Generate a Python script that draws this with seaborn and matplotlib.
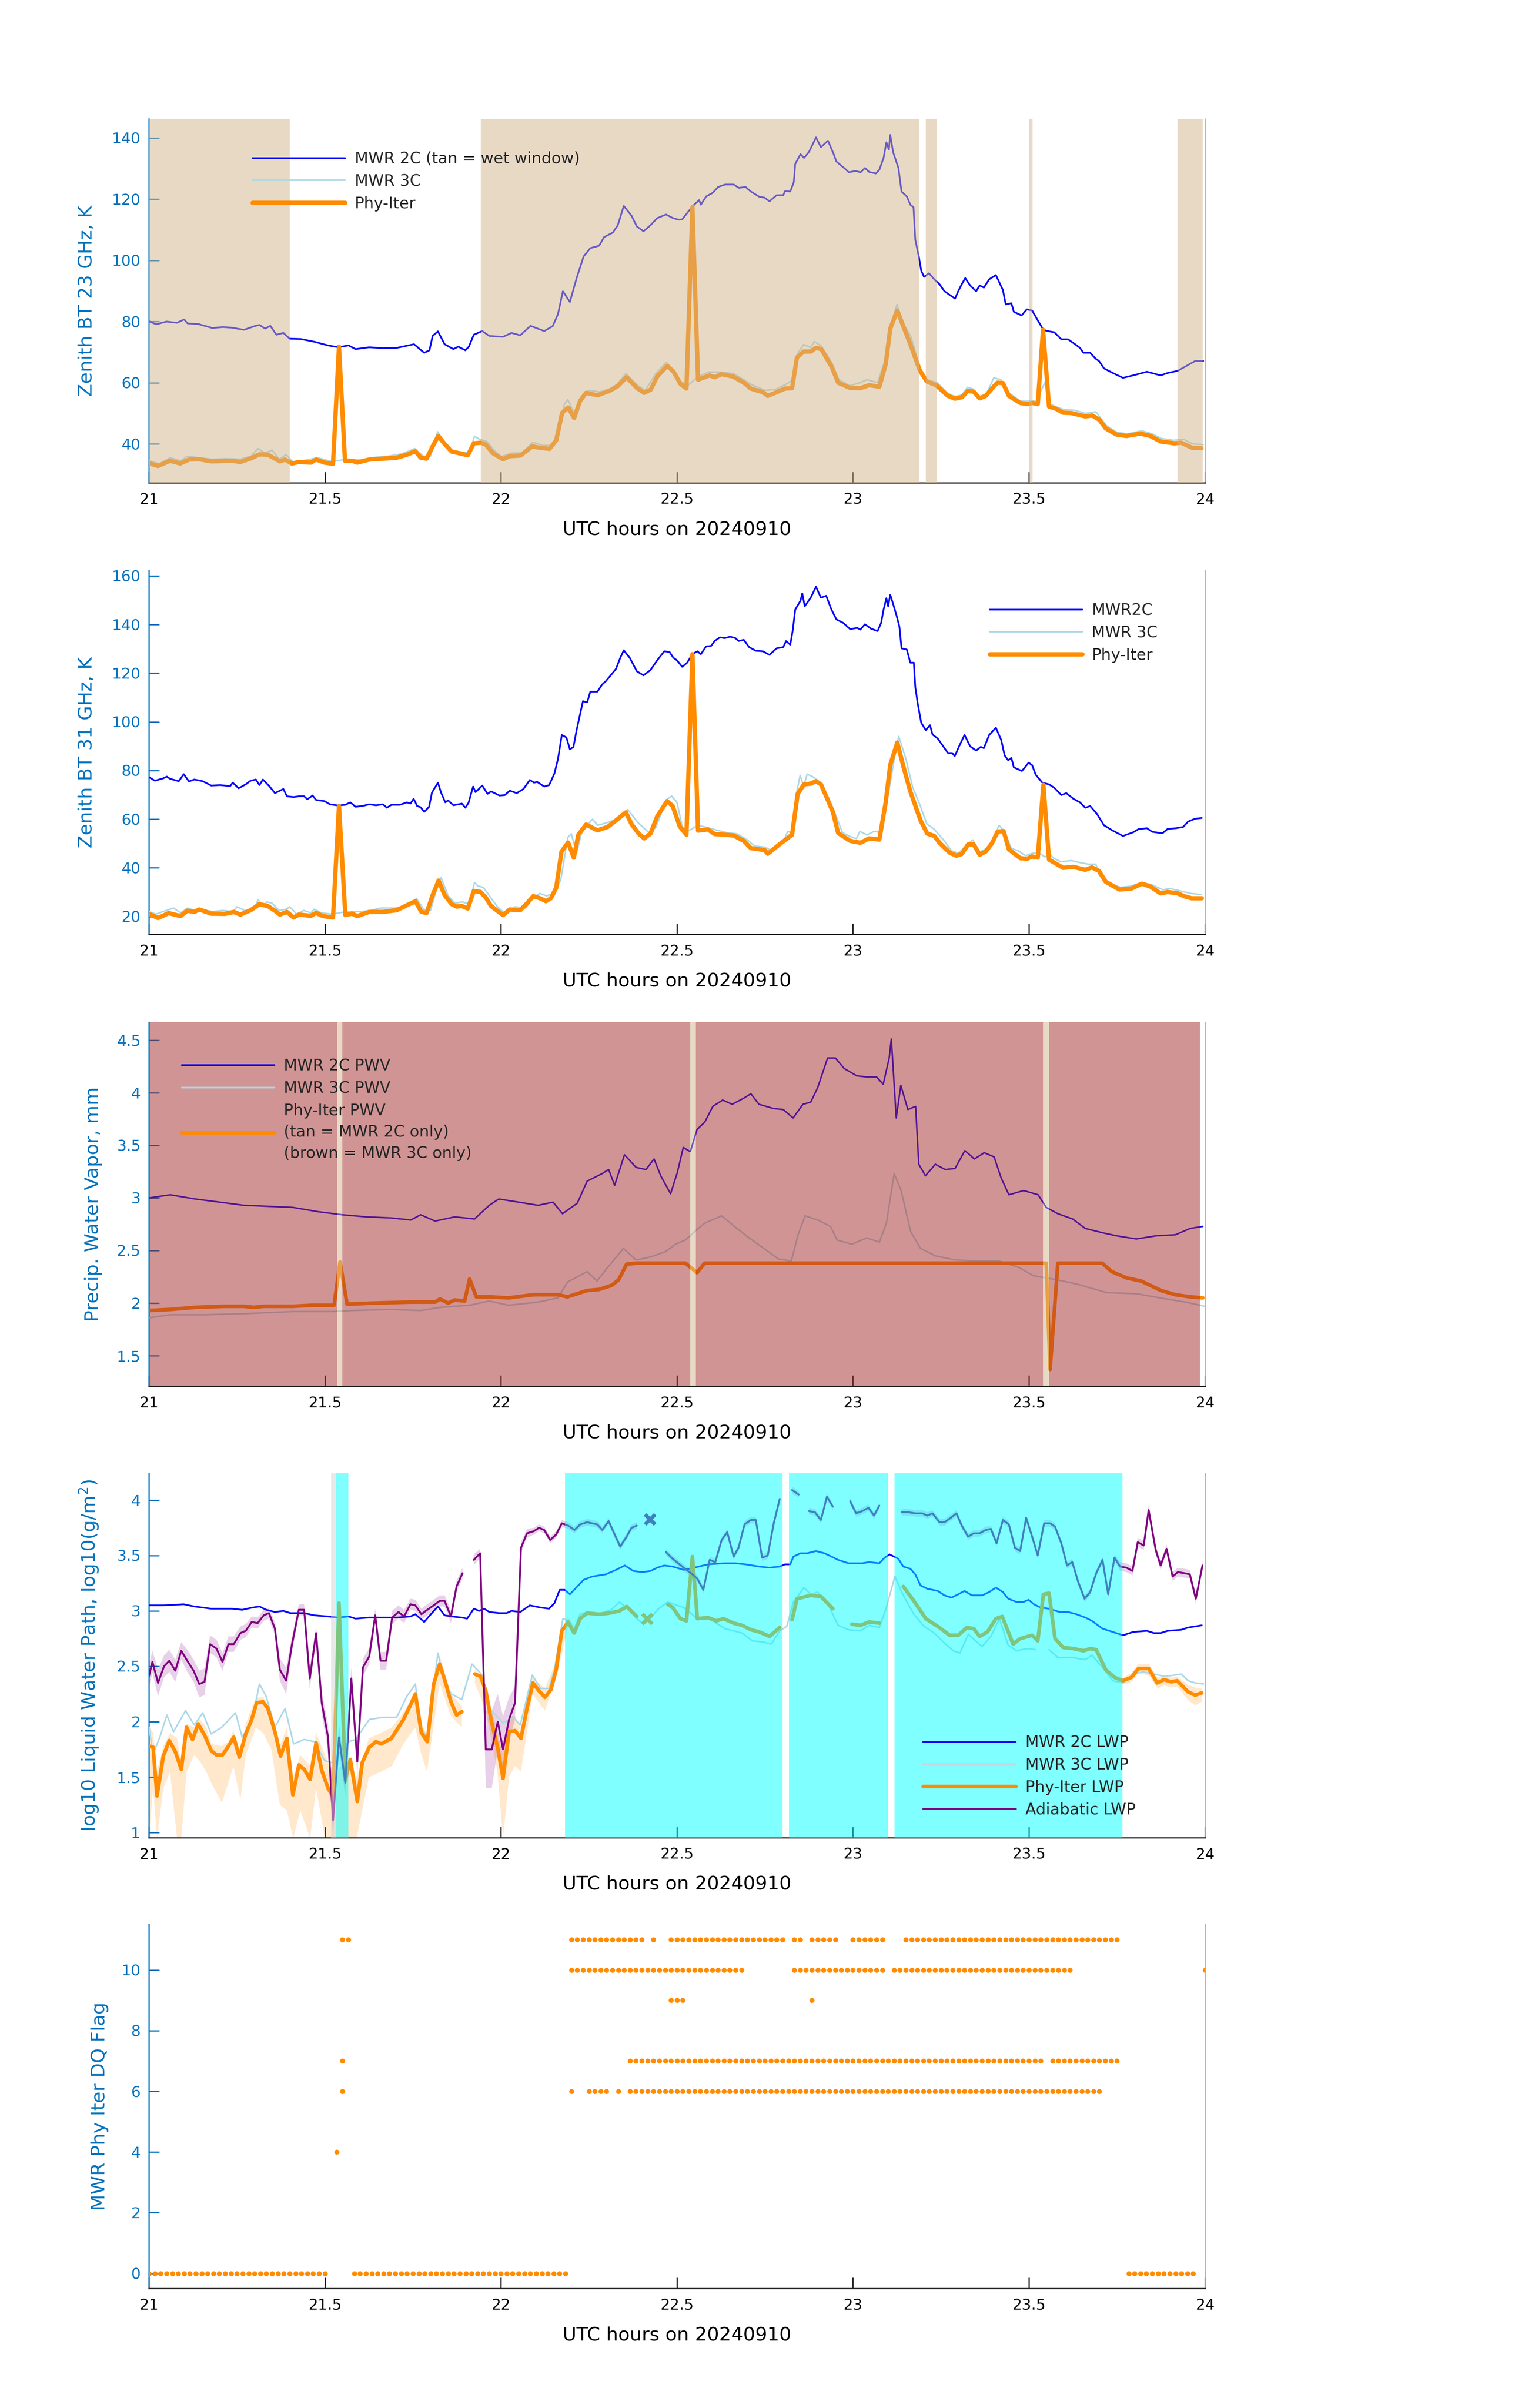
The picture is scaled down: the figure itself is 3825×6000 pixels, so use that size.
import numpy as np
import matplotlib
matplotlib.use("Agg")
import matplotlib.pyplot as plt
from matplotlib.lines import Line2D
import seaborn as sns

nan = np.nan

# ---------------- Panel 1 : Zenith BT 23 GHz ----------------
bt23_2c_t = [21.000, 21.021, 21.050, 21.080, 21.100, 21.110, 21.140, 21.180, 21.210, 21.236, 21.270, 21.300, 21.314,
             21.330, 21.345, 21.362, 21.382, 21.400, 21.431, 21.470, 21.509, 21.538, 21.567, 21.587, 21.626, 21.665,
             21.704, 21.733, 21.753, 21.782, 21.797, 21.806, 21.821, 21.840, 21.865, 21.879, 21.899, 21.909, 21.923,
             21.947, 21.967, 22.006, 22.030, 22.055, 22.084, 22.123, 22.147, 22.162, 22.176, 22.196, 22.215, 22.235,
             22.254, 22.279, 22.293, 22.318, 22.332, 22.349, 22.371, 22.386, 22.405, 22.425, 22.444, 22.469, 22.489,
             22.505, 22.515, 22.534, 22.549, 22.563, 22.568, 22.583, 22.602, 22.617, 22.637, 22.661, 22.676, 22.695,
             22.710, 22.734, 22.749, 22.763, 22.783, 22.802, 22.807, 22.822, 22.832, 22.836, 22.851, 22.861, 22.875,
             22.885, 22.895, 22.909, 22.929, 22.944, 22.953, 22.978, 22.988, 23.007, 23.022, 23.034, 23.046, 23.065,
             23.075, 23.087, 23.095, 23.102, 23.106, 23.114, 23.129, 23.138, 23.153, 23.163, 23.172, 23.177, 23.187,
             23.194, 23.202, 23.216, 23.231, 23.246, 23.260, 23.275, 23.290, 23.299, 23.309, 23.319, 23.333, 23.350,
             23.360, 23.372, 23.387, 23.406, 23.426, 23.434, 23.450, 23.457, 23.479, 23.494, 23.509, 23.523, 23.541,
             23.553, 23.572, 23.592, 23.611, 23.631, 23.645, 23.655, 23.674, 23.689, 23.699, 23.713, 23.738, 23.767,
             23.796, 23.835, 23.874, 23.894, 23.923, 23.952, 23.972, 23.995]
bt23_2c = [80.1, 79.1, 80.0, 79.6, 80.7, 79.4, 79.2, 77.9, 78.2, 78.0, 77.3, 78.5, 78.9,
           77.7, 78.6, 75.7, 76.3, 74.4, 74.3, 73.4, 72.2, 71.6, 72.2, 71.0, 71.6, 71.3,
           71.4, 72.1, 72.6, 69.8, 70.6, 75.3, 76.8, 72.6, 71.0, 71.8, 70.6, 71.8, 75.7,
           76.9, 75.3, 75.0, 76.3, 75.5, 78.6, 76.9, 78.5, 82.4, 89.9, 86.4, 94.2, 101.3,
           104.0, 104.8, 107.6, 109.1, 111.5, 117.8, 114.6, 111.1, 109.5, 111.5, 113.8, 115.0, 113.8,
           113.3, 113.4, 116.2, 118.2, 119.7, 118.2, 120.9, 122.1, 124.0, 124.8, 124.8, 123.7, 124.0,
           122.5, 120.8, 120.5, 119.3, 121.3, 121.3, 122.6, 122.5, 125.6, 131.5, 134.7, 133.5, 135.4,
           137.8, 140.2, 137.0, 139.1, 135.1, 132.3, 129.9, 128.8, 129.2, 128.8, 130.2, 128.9, 128.4,
           129.6, 133.5, 138.6, 136.2, 141.0, 135.4, 130.3, 122.5, 120.9, 118.2, 117.4, 106.8, 101.3,
           96.6, 94.6, 95.8, 93.8, 92.2, 89.9, 88.7, 87.5, 89.9, 92.2, 94.2, 91.8, 89.9,
           91.8, 91.1, 93.8, 95.2, 90.3, 85.6, 86.0, 83.2, 82.0, 84.0, 83.6, 80.8, 77.3,
           76.9, 76.5, 74.2, 74.2, 72.6, 71.4, 69.8, 69.8, 67.9, 67.1, 64.7, 63.2, 61.6,
           62.4, 63.6, 62.4, 63.2, 63.9, 65.8, 67.1, 67.1]

bt23_3c_t = [21.00, 21.03, 21.06, 21.09, 21.11, 21.14, 21.18, 21.22, 21.26, 21.29, 21.31, 21.33, 21.35, 21.37, 21.39,
             21.41, 21.45, 21.48, 21.52, 21.56, 21.60, 21.64, 21.68, 21.72, 21.755, 21.78, 21.80, 21.82, 21.84, 21.86,
             21.88, 21.91, 21.925, 21.94, 21.96, 21.98, 22.00, 22.03, 22.06, 22.09, 22.12, 22.15, 22.165, 22.18, 22.19,
             22.21, 22.23, 22.25, 22.28, 22.31, 22.33, 22.355, 22.39, 22.41, 22.44, 22.47, 22.49, 22.51, 22.53, 22.56,
             22.59, 22.62, 22.66, 22.69, 22.71, 22.75, 22.78, 22.81, 22.83, 22.845, 22.86, 22.88, 22.89, 22.91, 22.94,
             22.96, 22.99, 23.02, 23.04, 23.07, 23.09, 23.11, 23.125, 23.14, 23.165, 23.19, 23.21, 23.24, 23.27, 23.29,
             23.31, 23.325, 23.34, 23.36, 23.38, 23.40, 23.42, 23.44, 23.475, 23.50, 23.52, 23.545, 23.56, 23.58, 23.60,
             23.63, 23.66, 23.69, 23.70, 23.72, 23.75, 23.78, 23.82, 23.85, 23.875, 23.91, 23.94, 23.965, 23.995]
bt23_3c = [34.5, 33.5, 35.5, 34.5, 36.0, 35.5, 35.0, 35.2, 35.0, 36.0, 38.5, 37.0, 38.0, 35.0, 36.5,
           34.0, 34.8, 35.5, 34.2, 35.0, 34.8, 35.6, 36.0, 36.8, 38.5, 36.0, 36.0, 44.0, 40.5, 38.0,
           37.5, 37.0, 42.5, 41.5, 40.8, 38.0, 35.8, 37.0, 37.0, 40.5, 39.5, 39.5, 43.0, 53.0, 54.5,
           49.5, 55.5, 57.5, 57.0, 58.0, 59.5, 63.0, 59.0, 57.5, 63.0, 66.7, 64.0, 60.5, 59.0, 62.0,
           63.5, 63.5, 63.0, 61.0, 59.5, 57.5, 57.8, 59.5, 61.0, 70.0, 72.5, 71.5, 73.5, 72.0, 66.5,
           61.0, 59.0, 60.0, 61.0, 60.0, 67.0, 80.0, 85.6, 80.0, 75.0, 65.0, 61.0, 60.0, 56.5, 55.5,
           56.0, 58.5, 58.0, 55.5, 56.5, 61.6, 61.0, 57.0, 54.0, 54.0, 54.0, 60.0, 53.0, 52.0, 51.2,
           51.0, 50.0, 50.5, 49.0, 46.0, 43.8, 43.3, 44.3, 43.3, 41.8, 41.2, 41.5, 40.0, 39.8]

bt23_phy_t = [21.000, 21.026, 21.060, 21.089, 21.114, 21.143, 21.178, 21.236, 21.260, 21.290, 21.314, 21.338, 21.372,
              21.387, 21.406, 21.426, 21.460, 21.475, 21.499, 21.523, 21.540, 21.557, 21.577, 21.592, 21.626, 21.665,
              21.704, 21.733, 21.757, 21.772, 21.789, 21.806, 21.822, 21.840, 21.860, 21.884, 21.906, 21.923, 21.943,
              21.957, 21.977, 22.006, 22.025, 22.055, 22.089, 22.113, 22.138, 22.157, 22.174, 22.191, 22.208, 22.225,
              22.242, 22.274, 22.308, 22.332, 22.357, 22.386, 22.407, 22.425, 22.444, 22.472, 22.490, 22.510, 22.527,
              22.544, 22.560, 22.593, 22.607, 22.627, 22.660, 22.690, 22.710, 22.744, 22.758, 22.783, 22.807, 22.827,
              22.841, 22.860, 22.880, 22.895, 22.910, 22.940, 22.958, 22.992, 23.020, 23.046, 23.075, 23.093, 23.106,
              23.126, 23.143, 23.163, 23.190, 23.210, 23.236, 23.270, 23.290, 23.310, 23.326, 23.343, 23.360, 23.377,
              23.395, 23.410, 23.426, 23.443, 23.475, 23.495, 23.510, 23.525, 23.540, 23.557, 23.577, 23.597, 23.620,
              23.660, 23.680, 23.700, 23.718, 23.748, 23.777, 23.816, 23.845, 23.874, 23.913, 23.933, 23.962, 23.990]
bt23_phy = [33.7, 32.8, 34.5, 33.6, 34.9, 35.0, 34.3, 34.5, 34.1, 35.3, 36.6, 36.5, 34.3,
            34.9, 33.6, 34.1, 33.9, 34.9, 33.9, 33.5, 71.8, 34.5, 34.5, 33.9, 34.9, 35.2,
            35.5, 36.5, 37.6, 35.5, 35.2, 39.2, 42.6, 40.0, 37.5, 36.9, 36.3, 40.2, 40.4,
            39.8, 37.0, 35.0, 36.0, 36.2, 39.2, 38.7, 38.4, 41.2, 50.2, 51.9, 48.5, 54.1,
            56.7, 55.9, 57.3, 58.9, 61.8, 58.3, 56.7, 57.7, 62.0, 65.5, 63.7, 59.6, 58.1,
            117.4, 61.0, 62.4, 61.8, 62.8, 62.0, 60.0, 58.1, 56.9, 55.7, 56.9, 58.1, 58.2,
            68.3, 70.2, 70.2, 71.4, 71.0, 65.1, 60.0, 58.3, 58.2, 59.2, 58.7, 66.0, 77.7,
            83.6, 78.5, 72.6, 64.0, 60.4, 59.2, 55.7, 54.8, 55.3, 57.3, 57.1, 54.9, 55.7,
            58.1, 60.0, 59.9, 55.7, 53.4, 53.0, 53.4, 53.0, 77.3, 52.2, 51.5, 50.2, 50.1,
            49.0, 49.3, 47.9, 45.1, 43.1, 42.6, 43.4, 42.6, 40.8, 40.2, 40.4, 38.8, 38.6]

wet_window_23 = [(21.000, 21.400), (21.943, 23.189), (23.207, 23.239), (23.500, 23.510), (23.922, 23.994)]

# ---------------- Panel 2 : Zenith BT 31 GHz ----------------
bt31_2c_t = [21.000, 21.017, 21.041, 21.051, 21.060, 21.085, 21.099, 21.114, 21.129, 21.153, 21.177, 21.202, 21.231,
             21.238, 21.255, 21.275, 21.289, 21.304, 21.314, 21.324, 21.343, 21.358, 21.382, 21.392, 21.411, 21.426,
             21.441, 21.450, 21.465, 21.475, 21.499, 21.514, 21.538, 21.558, 21.572, 21.587, 21.606, 21.626, 21.645,
             21.665, 21.676, 21.689, 21.713, 21.733, 21.743, 21.752, 21.762, 21.772, 21.782, 21.796, 21.804, 21.821,
             21.830, 21.842, 21.850, 21.865, 21.889, 21.899, 21.908, 21.921, 21.928, 21.947, 21.962, 21.972, 21.996,
             22.011, 22.025, 22.045, 22.064, 22.082, 22.094, 22.103, 22.123, 22.137, 22.152, 22.162, 22.173, 22.186,
             22.196, 22.206, 22.215, 22.233, 22.245, 22.254, 22.274, 22.288, 22.298, 22.313, 22.327, 22.339, 22.349,
             22.366, 22.386, 22.405, 22.425, 22.444, 22.464, 22.479, 22.490, 22.500, 22.515, 22.529, 22.544, 22.558,
             22.568, 22.583, 22.597, 22.607, 22.622, 22.636, 22.651, 22.666, 22.675, 22.690, 22.705, 22.724, 22.744,
             22.763, 22.783, 22.802, 22.810, 22.822, 22.829, 22.836, 22.851, 22.856, 22.863, 22.880, 22.895, 22.909,
             22.924, 22.939, 22.953, 22.973, 22.992, 23.012, 23.021, 23.034, 23.051, 23.070, 23.080, 23.087, 23.095,
             23.100, 23.106, 23.114, 23.124, 23.132, 23.138, 23.153, 23.163, 23.173, 23.177, 23.184, 23.194, 23.207,
             23.219, 23.226, 23.241, 23.260, 23.270, 23.282, 23.289, 23.304, 23.317, 23.333, 23.350, 23.363, 23.372,
             23.387, 23.406, 23.421, 23.431, 23.441, 23.450, 23.457, 23.480, 23.499, 23.509, 23.519, 23.538, 23.557,
             23.572, 23.592, 23.606, 23.626, 23.645, 23.660, 23.674, 23.694, 23.713, 23.738, 23.767, 23.796, 23.811,
             23.835, 23.850, 23.879, 23.894, 23.918, 23.938, 23.952, 23.972, 23.991]
bt31_2c = [77.3, 75.8, 76.8, 77.5, 76.6, 75.6, 78.5, 75.5, 76.3, 75.6, 73.8, 74.0, 73.6,
           75.0, 72.7, 74.3, 75.8, 76.3, 74.0, 76.3, 73.4, 70.7, 72.4, 69.4, 69.1, 69.4,
           69.4, 68.2, 69.7, 67.9, 67.4, 66.1, 65.6, 65.9, 66.9, 65.1, 65.4, 66.1, 65.7,
           66.1, 64.7, 65.9, 65.9, 66.9, 66.4, 68.4, 65.4, 64.9, 63.0, 65.1, 70.9, 75.0,
           70.9, 66.9, 67.7, 65.7, 66.4, 64.7, 66.7, 73.4, 71.1, 73.8, 70.4, 71.4, 69.7,
           69.9, 71.7, 70.7, 72.4, 76.1, 75.0, 75.3, 73.4, 74.0, 78.8, 84.7, 94.6, 93.6,
           88.7, 89.7, 96.6, 108.5, 108.0, 112.4, 112.4, 115.4, 116.7, 119.3, 121.8, 126.3, 129.4,
           126.3, 120.8, 119.1, 121.3, 125.3, 129.0, 128.7, 126.3, 125.3, 122.6, 124.3, 127.8, 129.0,
           127.8, 131.0, 131.2, 133.2, 134.7, 134.4, 135.0, 134.4, 133.2, 133.7, 130.7, 129.2, 129.0,
           127.5, 130.2, 130.7, 133.2, 131.7, 137.6, 146.1, 149.8, 152.8, 147.5, 151.0, 155.5, 151.0,
           151.8, 146.1, 142.1, 140.6, 138.1, 138.6, 137.9, 140.1, 138.3, 137.3, 140.6, 146.1, 150.8,
           147.5, 152.2, 148.5, 143.6, 139.1, 130.2, 129.7, 124.3, 124.3, 114.4, 107.5, 99.6, 96.6,
           98.6, 94.8, 93.1, 89.2, 87.2, 87.2, 85.9, 90.7, 94.6, 89.9, 88.2, 89.7, 89.2,
           94.6, 97.6, 92.6, 86.2, 84.2, 85.2, 81.3, 79.8, 83.2, 82.2, 78.3, 75.0, 74.3,
           72.9, 69.9, 70.7, 68.4, 66.9, 64.7, 65.4, 62.0, 57.5, 55.3, 53.1, 54.6, 55.9,
           56.3, 54.8, 54.2, 56.0, 56.3, 56.8, 59.0, 60.2, 60.5]

bt31_3c_t = [21.00, 21.02, 21.05, 21.07, 21.09, 21.11, 21.13, 21.15, 21.18, 21.21, 21.24, 21.25, 21.28, 21.30, 21.31,
             21.325, 21.335, 21.35, 21.37, 21.39, 21.40, 21.42, 21.44, 21.46, 21.47, 21.49, 21.52, 21.56, 21.60, 21.63,
             21.66, 21.70, 21.72, 21.75, 21.76, 21.78, 21.80, 21.82, 21.83, 21.85, 21.87, 21.89, 21.91, 21.925, 21.935,
             21.95, 21.97, 21.99, 22.01, 22.04, 22.07, 22.09, 22.11, 22.13, 22.15, 22.17, 22.19, 22.20, 22.215, 22.23,
             22.26, 22.275, 22.30, 22.33, 22.36, 22.39, 22.42, 22.44, 22.47, 22.485, 22.50, 22.515, 22.53, 22.56, 22.60,
             22.64, 22.67, 22.70, 22.72, 22.75, 22.77, 22.80, 22.815, 22.83, 22.84, 22.85, 22.86, 22.87, 22.885, 22.90,
             22.93, 22.95, 22.97, 22.99, 23.01, 23.02, 23.04, 23.06, 23.08, 23.10, 23.12, 23.13, 23.15, 23.17, 23.19,
             23.21, 23.23, 23.26, 23.28, 23.30, 23.32, 23.34, 23.36, 23.38, 23.40, 23.415, 23.43, 23.45, 23.47, 23.49,
             23.51, 23.53, 23.545, 23.56, 23.57, 23.59, 23.62, 23.65, 23.67, 23.69, 23.70, 23.73, 23.76, 23.79, 23.82,
             23.85, 23.88, 23.90, 23.93, 23.96, 23.99]
bt31_3c = [22.0, 21.0, 22.5, 23.5, 21.5, 23.5, 22.5, 23.0, 22.0, 22.5, 22.0, 24.0, 22.0, 23.0, 27.0,
           24.0, 26.0, 25.5, 22.5, 23.0, 24.0, 21.0, 22.5, 21.5, 23.0, 21.5, 21.0, 22.0, 22.0, 22.5,
           23.5, 23.5, 24.0, 25.5, 27.5, 23.0, 22.5, 32.5, 36.0, 28.5, 25.5, 26.0, 25.0, 34.0, 32.5,
           32.0, 28.0, 24.0, 21.5, 24.0, 23.5, 27.5, 29.5, 28.5, 29.5, 35.0, 52.5, 54.0, 46.0, 55.0,
           60.0, 57.5, 58.5, 60.0, 64.0, 58.5, 54.5, 56.5, 68.0, 69.5, 67.0, 57.0, 55.0, 57.5, 56.0,
           54.5, 54.0, 51.5, 49.0, 48.5, 47.0, 50.0, 55.0, 54.0, 71.0, 78.0, 73.5, 78.5, 77.5, 76.0,
           69.0, 62.0, 54.5, 53.0, 52.0, 55.0, 53.5, 55.0, 54.5, 70.0, 87.0, 94.0, 85.0, 73.0, 66.0,
           58.0, 56.0, 51.0, 47.0, 46.0, 49.0, 51.5, 46.5, 48.0, 52.0, 57.5, 55.0, 48.0, 47.0, 45.0,
           46.0, 46.0, 44.5, 45.5, 44.0, 42.5, 43.0, 42.0, 41.5, 41.5, 37.0, 33.5, 32.0, 32.5, 34.0,
           33.0, 31.0, 31.5, 30.5, 29.5, 29.0]

bt31_phy_t = [21.000, 21.026, 21.056, 21.090, 21.109, 21.129, 21.143, 21.177, 21.216, 21.241, 21.260, 21.289, 21.314,
              21.338, 21.358, 21.372, 21.392, 21.411, 21.426, 21.460, 21.475, 21.494, 21.523, 21.540, 21.558, 21.577,
              21.592, 21.626, 21.665, 21.704, 21.728, 21.757, 21.774, 21.789, 21.806, 21.823, 21.840, 21.860, 21.874,
              21.889, 21.906, 21.923, 21.942, 21.957, 21.972, 22.006, 22.025, 22.055, 22.074, 22.092, 22.113, 22.128,
              22.142, 22.157, 22.172, 22.191, 22.207, 22.220, 22.242, 22.274, 22.303, 22.327, 22.355, 22.371, 22.391,
              22.407, 22.425, 22.444, 22.472, 22.488, 22.508, 22.527, 22.544, 22.560, 22.588, 22.607, 22.636, 22.661,
              22.690, 22.710, 22.734, 22.749, 22.758, 22.778, 22.797, 22.827, 22.843, 22.861, 22.880, 22.895, 22.909,
              22.924, 22.943, 22.958, 22.992, 23.021, 23.046, 23.075, 23.093, 23.106, 23.126, 23.143, 23.163, 23.192,
              23.211, 23.231, 23.246, 23.275, 23.294, 23.309, 23.327, 23.343, 23.360, 23.377, 23.395, 23.411, 23.428,
              23.443, 23.475, 23.494, 23.509, 23.525, 23.541, 23.557, 23.577, 23.597, 23.626, 23.660, 23.679, 23.699,
              23.718, 23.757, 23.791, 23.821, 23.845, 23.874, 23.894, 23.923, 23.942, 23.962, 23.991]
bt31_phy = [21.1, 19.4, 21.4, 20.2, 22.4, 21.9, 22.9, 21.2, 21.1, 21.9, 20.8, 22.6, 25.1,
            24.3, 22.4, 20.8, 21.9, 19.6, 20.8, 20.3, 21.5, 20.2, 19.6, 65.4, 20.6, 21.2,
            20.2, 21.9, 21.9, 22.6, 24.3, 26.3, 21.9, 21.5, 28.8, 34.8, 28.8, 25.1, 24.1,
            24.3, 23.3, 30.5, 30.1, 27.8, 24.3, 20.6, 22.9, 22.6, 25.4, 28.4, 27.4, 26.3,
            27.5, 31.8, 46.7, 50.4, 44.2, 53.6, 57.8, 55.4, 56.8, 59.5, 62.8, 58.0, 54.1,
            52.1, 54.1, 61.2, 67.4, 65.4, 57.0, 53.6, 127.8, 55.3, 55.8, 53.9, 53.6, 53.3,
            51.1, 48.1, 47.6, 47.3, 45.8, 48.1, 50.3, 53.6, 70.4, 74.3, 74.6, 75.6, 74.3,
            69.4, 63.0, 54.3, 51.1, 50.3, 52.1, 51.6, 66.9, 82.3, 91.5, 81.8, 71.4, 59.5,
            54.1, 53.1, 50.3, 46.2, 45.0, 45.7, 49.6, 49.6, 45.4, 46.7, 50.1, 54.9, 55.1,
            47.6, 44.0, 43.7, 44.7, 44.2, 74.1, 43.4, 41.7, 40.0, 40.4, 39.2, 40.2, 38.7,
            34.3, 31.1, 31.5, 33.5, 32.3, 29.5, 30.1, 29.5, 28.3, 27.5, 27.5]

# ---------------- Panel 3 : PWV ----------------
pwv_2c_t = [21.000, 21.061, 21.131, 21.201, 21.270, 21.340, 21.409, 21.479, 21.549, 21.618, 21.688, 21.744, 21.772,
            21.813, 21.869, 21.925, 21.967, 21.994, 22.050, 22.106, 22.148, 22.175, 22.217, 22.245, 22.287, 22.306,
            22.323, 22.351, 22.384, 22.412, 22.435, 22.454, 22.482, 22.501, 22.518, 22.538, 22.557, 22.579, 22.602,
            22.630, 22.657, 22.691, 22.710, 22.733, 22.774, 22.802, 22.830, 22.858, 22.880, 22.900, 22.928, 22.950,
            22.975, 23.011, 23.039, 23.067, 23.086, 23.103, 23.109, 23.123, 23.136, 23.156, 23.178, 23.187, 23.206,
            23.234, 23.262, 23.290, 23.318, 23.345, 23.373, 23.401, 23.421, 23.443, 23.485, 23.526, 23.549, 23.582,
            23.624, 23.660, 23.708, 23.749, 23.805, 23.861, 23.916, 23.958, 23.994]
pwv_2c = [3.00, 3.03, 2.99, 2.96, 2.93, 2.92, 2.91, 2.87, 2.84, 2.82, 2.81, 2.79, 2.84,
          2.78, 2.82, 2.80, 2.93, 2.99, 2.96, 2.93, 2.96, 2.85, 2.95, 3.16, 3.23, 3.27,
          3.12, 3.41, 3.29, 3.27, 3.37, 3.21, 3.04, 3.24, 3.48, 3.44, 3.65, 3.72, 3.87,
          3.93, 3.89, 3.95, 3.99, 3.89, 3.85, 3.84, 3.76, 3.89, 3.91, 4.05, 4.33, 4.33,
          4.23, 4.16, 4.15, 4.15, 4.08, 4.33, 4.51, 3.76, 4.07, 3.84, 3.87, 3.32, 3.21,
          3.32, 3.27, 3.28, 3.45, 3.37, 3.43, 3.39, 3.19, 3.03, 3.07, 3.03, 2.91, 2.85,
          2.80, 2.71, 2.67, 2.64, 2.61, 2.64, 2.65, 2.71, 2.73]

pwv_3c_t = [21.000, 21.061, 21.159, 21.270, 21.409, 21.521, 21.577, 21.688, 21.772, 21.827, 21.911, 21.967, 22.022,
            22.106, 22.162, 22.189, 22.245, 22.273, 22.301, 22.348, 22.384, 22.426, 22.468, 22.496, 22.524, 22.557,
            22.579, 22.627, 22.663, 22.705, 22.747, 22.788, 22.825, 22.844, 22.864, 22.900, 22.936, 22.955, 22.997,
            23.039, 23.075, 23.095, 23.117, 23.136, 23.164, 23.192, 23.234, 23.290, 23.359, 23.415, 23.471, 23.513,
            23.549, 23.582, 23.638, 23.721, 23.805, 23.889, 23.944, 24.000]
pwv_3c = [1.86, 1.89, 1.89, 1.90, 1.92, 1.92, 1.93, 1.94, 1.93, 1.96, 1.98, 2.02, 1.98,
          2.01, 2.05, 2.20, 2.30, 2.21, 2.33, 2.52, 2.41, 2.44, 2.49, 2.56, 2.60, 2.70,
          2.76, 2.83, 2.73, 2.62, 2.52, 2.42, 2.40, 2.65, 2.83, 2.79, 2.73, 2.60, 2.56,
          2.62, 2.58, 2.76, 3.23, 3.08, 2.68, 2.52, 2.45, 2.41, 2.40, 2.40, 2.34, 2.26,
          2.24, 2.22, 2.18, 2.10, 2.09, 2.04, 2.01, 1.97]

pwv_phy_t = [21.000, 21.061, 21.131, 21.214, 21.270, 21.298, 21.326, 21.409, 21.465, 21.526, 21.543, 21.563, 21.632,
             21.744, 21.813, 21.827, 21.850, 21.869, 21.897, 21.911, 21.930, 21.967, 22.022, 22.092, 22.162, 22.189,
             22.217, 22.245, 22.279, 22.315, 22.334, 22.357, 22.384, 22.524, 22.557, 22.579, 23.549, 23.560, 23.582,
             23.708, 23.735, 23.777, 23.819, 23.875, 23.916, 23.958, 23.994]
pwv_phy = [1.93, 1.94, 1.96, 1.97, 1.97, 1.96, 1.97, 1.97, 1.98, 1.98, 2.39, 1.99, 2.00,
           2.01, 2.01, 2.04, 2.00, 2.03, 2.02, 2.23, 2.06, 2.06, 2.05, 2.08, 2.08, 2.06,
           2.09, 2.12, 2.13, 2.17, 2.22, 2.37, 2.38, 2.38, 2.29, 2.38, 2.38, 1.37, 2.38,
           2.38, 2.30, 2.24, 2.21, 2.12, 2.08, 2.06, 2.05]

pwv_brown = [(21.000, 21.535), (21.549, 22.538), (22.554, 23.540), (23.557, 23.986)]
pwv_tan = [(21.535, 21.549), (22.538, 22.554), (23.540, 23.557)]

# ---------------- Panel 4 : log10 LWP ----------------
lwp_2c_t = [21.000, 21.041, 21.099, 21.129, 21.177, 21.236, 21.265, 21.294, 21.314, 21.333, 21.358, 21.382, 21.402,
            21.441, 21.470, 21.509, 21.538, 21.567, 21.587, 21.626, 21.665, 21.704, 21.743, 21.757, 21.782, 21.801,
            21.821, 21.840, 21.860, 21.889, 21.904, 21.923, 21.938, 21.952, 21.967, 21.996, 22.016, 22.030, 22.055,
            22.082, 22.113, 22.137, 22.152, 22.167, 22.181, 22.196, 22.211, 22.235, 22.259, 22.298, 22.327, 22.352,
            22.376, 22.401, 22.425, 22.444, 22.464, 22.488, 22.519, 22.549, 22.588, 22.636, 22.666, 22.695, 22.734,
            22.763, 22.792, 22.807, 22.822, 22.831, 22.851, 22.870, 22.895, 22.919, 22.939, 22.958, 22.987, 23.026,
            23.046, 23.075, 23.090, 23.104, 23.129, 23.143, 23.163, 23.177, 23.192, 23.211, 23.241, 23.260, 23.280,
            23.299, 23.317, 23.338, 23.367, 23.387, 23.406, 23.426, 23.441, 23.465, 23.484, 23.499, 23.514, 23.533,
            23.557, 23.587, 23.611, 23.635, 23.660, 23.679, 23.709, 23.738, 23.767, 23.796, 23.835, 23.855, 23.874,
            23.894, 23.933, 23.952, 23.972, 23.991]
lwp_2c = [3.05, 3.05, 3.06, 3.04, 3.02, 3.02, 3.01, 3.03, 3.04, 3.01, 2.99, 3.00, 2.98,
          2.98, 2.96, 2.95, 2.94, 2.95, 2.93, 2.94, 2.94, 2.94, 2.95, 2.97, 2.90, 2.97,
          3.04, 2.96, 2.95, 2.94, 2.93, 3.02, 3.00, 3.02, 2.99, 2.98, 2.98, 3.00, 2.99,
          3.05, 3.03, 3.02, 3.07, 3.19, 3.19, 3.15, 3.20, 3.28, 3.31, 3.33, 3.37, 3.41,
          3.36, 3.35, 3.36, 3.39, 3.41, 3.40, 3.37, 3.39, 3.42, 3.43, 3.43, 3.42, 3.40,
          3.39, 3.40, 3.42, 3.42, 3.49, 3.52, 3.52, 3.54, 3.52, 3.49, 3.46, 3.43, 3.43,
          3.44, 3.43, 3.48, 3.51, 3.47, 3.40, 3.38, 3.33, 3.23, 3.20, 3.18, 3.14, 3.12,
          3.15, 3.18, 3.14, 3.14, 3.17, 3.21, 3.17, 3.11, 3.08, 3.08, 3.10, 3.06, 3.03,
          3.02, 2.99, 2.99, 2.97, 2.94, 2.91, 2.84, 2.81, 2.78, 2.81, 2.82, 2.80, 2.80,
          2.82, 2.83, 2.85, 2.86, 2.87]

lwp_3c_t = [21.000, 21.012, 21.031, 21.051, 21.070, 21.104, 21.129, 21.153, 21.177, 21.207, 21.246, 21.265, 21.294,
            21.314, 21.333, 21.358, 21.387, 21.411, 21.441, 21.470, 21.499, 21.519, 21.567, 21.587, 21.626, 21.665,
            21.704, 21.733, 21.757, 21.772, 21.791, 21.821, 21.840, 21.860, 21.889, 21.918, 21.947, 21.967, 22.006,
            22.035, 22.055, 22.089, 22.113, 22.137, 22.152, 22.176, 22.191, 22.206, 22.225, 22.245, 22.279, 22.313,
            22.337, 22.357, 22.386, 22.405, 22.425, 22.444, 22.474, 22.519, 22.558, 22.597, 22.636, 22.685, 22.714,
            22.744, 22.768, 22.792, 22.812, 22.831, 22.861, 22.880, 22.900, 22.929, 22.958, 22.987, 23.021, 23.046,
            23.075, 23.095, 23.119, 23.143, 23.173, 23.202, 23.231, 23.260, 23.285, 23.304, 23.328, 23.348, 23.367,
            23.392, 23.416, 23.441, 23.465, 23.494, 23.519, 23.538, 23.557, 23.582, 23.621, 23.660, 23.679, 23.709,
            23.738, 23.767, 23.796, 23.825, 23.855, 23.884, 23.913, 23.933, 23.952, 23.972, 23.996]
lwp_3c = [1.95, 1.71, 1.86, 2.06, 1.91, 2.10, 1.97, 2.08, 1.89, 1.95, 2.08, 1.86, 2.02,
          2.34, 2.23, 1.95, 2.12, 1.80, 1.84, 1.82, 1.65, 1.63, 1.82, 1.84, 2.02, 2.04,
          2.04, 2.23, 2.34, 1.95, 1.86, 2.62, 2.34, 2.25, 2.20, 2.52, 2.42, 2.12, 1.99,
          2.04, 1.97, 2.42, 2.30, 2.30, 2.47, 2.93, 2.91, 2.82, 2.97, 2.99, 2.97, 3.01,
          3.08, 3.03, 2.93, 2.88, 2.93, 3.01, 3.08, 3.03, 2.93, 2.92, 2.84, 2.80, 2.73,
          2.72, 2.70, 2.82, 2.86, 3.08, 3.21, 3.15, 3.17, 3.06, 2.87, 2.83, 2.82, 2.87,
          2.85, 3.03, 3.31, 3.14, 2.97, 2.86, 2.80, 2.71, 2.64, 2.62, 2.79, 2.73, 2.68,
          2.77, 2.93, 2.69, 2.64, 2.66, 2.65, nan, 2.65, 2.58, 2.58, 2.56, 2.60, 2.49,
          2.37, 2.35, 2.43, 2.45, 2.43, 2.41, 2.42, 2.43, 2.37, 2.35, 2.34]

lwp_phy_t = [21.000, 21.012, 21.023, 21.041, 21.058, 21.075, 21.092, 21.107, 21.124, 21.140, 21.158, 21.177, 21.192,
             21.209, 21.224, 21.241, 21.257, 21.275, 21.292, 21.306, 21.324, 21.338, 21.358, 21.374, 21.392, 21.409,
             21.426, 21.441, 21.458, 21.475, 21.491, 21.509, 21.523, 21.540, 21.558, 21.572, 21.592, 21.606, 21.626,
             21.645, 21.660, 21.689, 21.723, 21.743, 21.757, 21.774, 21.791, 21.809, 21.826, 21.842, 21.858, 21.874,
             21.889, 21.905, 21.926, 21.942, 21.957, 21.972, 21.991, 22.006, 22.023, 22.040, 22.057, 22.074, 22.091,
             22.108, 22.125, 22.142, 22.157, 22.173, 22.191, 22.208, 22.225, 22.245, 22.279, 22.308, 22.337, 22.357,
             22.386, 22.400, 22.415, 22.430, 22.474, 22.488, 22.510, 22.527, 22.544, 22.558, 22.588, 22.612, 22.632,
             22.661, 22.685, 22.710, 22.734, 22.763, 22.792, 22.810, 22.827, 22.841, 22.880, 22.909, 22.943, 22.965,
             22.997, 23.021, 23.046, 23.075, 23.100, 23.143, 23.173, 23.207, 23.241, 23.275, 23.299, 23.324, 23.343,
             23.360, 23.382, 23.406, 23.424, 23.455, 23.475, 23.509, 23.525, 23.541, 23.557, 23.574, 23.597, 23.626,
             23.655, 23.674, 23.691, 23.718, 23.743, 23.767, 23.791, 23.811, 23.840, 23.864, 23.884, 23.904, 23.921,
             23.952, 23.972, 23.991]
lwp_phy = [1.78, 1.77, 1.33, 1.69, 1.83, 1.73, 1.57, 1.95, 1.84, 1.98, 1.88, 1.74, 1.70,
           1.70, 1.77, 1.86, 1.68, 1.89, 2.02, 2.17, 2.18, 2.12, 1.91, 1.69, 1.85, 1.34,
           1.61, 1.57, 1.48, 1.81, 1.56, 1.40, 1.32, 3.07, 1.47, 1.66, 1.28, 1.63, 1.77,
           1.82, 1.80, 1.85, 2.02, 2.15, 2.25, 1.90, 1.82, 2.34, 2.52, 2.36, 2.18, 2.06,
           2.09, nan, 2.43, 2.41, 2.28, 2.02, 1.76, 1.49, 1.91, 1.92, 1.85, 2.12, 2.35,
           2.28, 2.22, 2.29, 2.47, 2.82, 2.90, 2.80, 2.93, 2.98, 2.97, 2.98, 3.00, 3.04,
           2.95, nan, 2.93, nan, 3.06, 3.03, 2.93, 2.91, 3.49, 2.93, 2.94, 2.91, 2.93,
           2.89, 2.87, 2.83, 2.81, 2.77, 2.85, nan, 2.92, 3.11, 3.14, 3.13, 3.02, nan,
           2.88, 2.87, 2.90, 2.89, nan, 3.22, 3.09, 2.93, 2.86, 2.78, 2.78, 2.85, 2.84,
           2.77, 2.81, 2.93, 2.95, 2.70, 2.75, 2.78, 2.73, 3.15, 3.16, 2.75, 2.67, 2.66,
           2.64, 2.66, 2.65, 2.47, 2.40, 2.37, 2.40, 2.48, 2.48, 2.35, 2.38, 2.36, 2.37,
           2.27, 2.24, 2.26]

phy_band_t = [21.000, 21.012, 21.023, 21.041, 21.060, 21.080, 21.092, 21.107, 21.129, 21.143, 21.163, 21.177, 21.207,
              21.226, 21.240, 21.260, 21.275, 21.304, 21.324, 21.348, 21.372, 21.392, 21.410, 21.430, 21.458, 21.475,
              21.500, 21.523, 21.557, 21.590, 21.625, 21.660, 21.690, 21.723, 21.757, 21.774, 21.790, 21.826, 21.858,
              21.889, 21.905, 21.926, 21.957, 21.990, 22.006, 22.023, 22.040, 22.057, 22.090, 22.125, 22.157, 22.190,
              22.210, 23.767, 23.790, 23.810, 23.840, 23.865, 23.884, 23.904, 23.921, 23.953, 23.972, 23.990]
phy_band_lo = [0.95, 1.40, 0.95, 1.40, 1.55, 0.95, 0.95, 1.55, 1.70, 1.65, 1.55, 1.45, 1.27,
               1.45, 1.60, 1.30, 1.70, 1.95, 1.90, 1.75, 1.25, 1.20, 0.95, 1.20, 0.95, 1.40,
               0.95, 0.95, 0.95, 0.95, 1.50, 1.55, 1.60, 1.80, 1.95, 1.70, 1.55, 2.35, 2.05,
               1.95, nan, 2.35, 2.10, 1.55, 0.95, 1.50, 1.60, 1.55, 2.25, 2.10, 2.40, 2.85,
               2.86, 2.34, 2.36, 2.44, 2.42, 2.30, 2.33, 2.31, 2.32, 2.19, 2.15, 2.18]
phy_band_hi = [1.96, 1.90, 1.55, 1.78, 1.90, 1.85, 1.62, 1.98, 1.95, 2.03, 1.95, 1.80, 1.78,
               1.82, 1.92, 1.73, 1.98, 2.22, 2.22, 2.10, 1.78, 1.95, 1.50, 1.70, 1.60, 1.90,
               1.70, 1.55, 1.62, 1.50, 1.85, 1.90, 1.95, 2.08, 2.28, 1.98, 1.88, 2.60, 2.25,
               2.14, nan, 2.48, 2.32, 1.90, 1.70, 2.05, 2.05, 1.95, 2.40, 2.30, 2.55, 2.95,
               2.86, 2.40, 2.44, 2.52, 2.52, 2.40, 2.42, 2.40, 2.41, 2.33, 2.31, 2.30]

lwp_adi_t = [21.000, 21.010, 21.026, 21.043, 21.058, 21.075, 21.092, 21.109, 21.127, 21.143,
             21.158, 21.174, 21.192, 21.209, 21.226, 21.241, 21.260, 21.275, 21.292, 21.309,
             21.326, 21.341, 21.358, 21.372, 21.390, 21.406, 21.426, 21.441, 21.457, 21.475,
             21.491, 21.509, 21.523, 21.540, 21.558, 21.575, 21.592, 21.608, 21.626, 21.643,
             21.658, 21.674, 21.691, 21.709, 21.725, 21.743, 21.757, 21.774, 21.791, 21.809,
             21.826, 21.840, 21.858, 21.874, 21.891, 21.905, 21.923, 21.941, 21.957, 21.974,
             21.991, 22.006, 22.023, 22.040, 22.057, 22.074, 22.094, 22.108, 22.123, 22.140,
             22.157, 22.173, 22.191, 22.209, 22.225, 22.245, 22.274, 22.288, 22.306, 22.323,
             22.339, 22.357, 22.371, 22.386, 22.400, 22.423, 22.450, 22.469, 22.488, 22.519,
             22.544, 22.558, 22.575, 22.593, 22.609, 22.627, 22.643, 22.661, 22.675, 22.692,
             22.710, 22.724, 22.742, 22.758, 22.775, 22.792, 22.810, 22.827, 22.846, 22.860,
             22.875, 22.892, 22.909, 22.926, 22.943, 22.960, 22.992, 23.009, 23.026, 23.044,
             23.060, 23.075, 23.100, 23.138, 23.158, 23.177, 23.197, 23.211, 23.226, 23.246,
             23.260, 23.278, 23.294, 23.309, 23.327, 23.343, 23.360, 23.377, 23.392, 23.408,
             23.426, 23.443, 23.460, 23.475, 23.492, 23.509, 23.525, 23.543, 23.560, 23.574,
             23.592, 23.608, 23.623, 23.640, 23.658, 23.674, 23.691, 23.709, 23.725, 23.743,
             23.759, 23.777, 23.794, 23.809, 23.826, 23.840, 23.860, 23.874, 23.891, 23.908,
             23.923, 23.942, 23.957, 23.974, 23.993]
lwp_adi = [2.41, 2.54, 2.35, 2.50, 2.55, 2.46, 2.64, 2.55, 2.46, 2.34,
           2.36, 2.70, 2.66, 2.54, 2.70, 2.70, 2.80, 2.82, 2.90, 2.89,
           2.96, 2.98, 2.84, 2.47, 2.37, 2.69, 3.01, 3.01, 2.39, 2.80,
           2.17, 1.86, 1.11, 1.86, 1.45, 2.39, 1.64, 2.49, 2.59, 2.96,
           2.55, 2.55, 2.94, 2.99, 2.95, 3.06, 3.05, 2.97, 3.01, 3.05,
           3.09, 3.09, 2.95, 3.22, 3.34, nan, 3.46, 3.52, 1.75, 1.75,
           2.00, 1.75, 2.02, 2.17, 3.57, 3.70, 3.72, 3.75, 3.73, 3.64,
           3.69, 3.79, 3.77, 3.73, 3.78, 3.80, 3.78, 3.73, 3.81, 3.69,
           3.58, 3.67, 3.75, 3.77, nan, 3.83, nan, 3.53, 3.47, 3.39,
           3.33, 3.29, 3.19, 3.46, 3.44, 3.64, 3.71, 3.49, 3.57, 3.78,
           3.82, 3.82, 3.48, 3.50, 3.79, 4.01, nan, 4.09, 4.05, nan,
           3.90, 3.89, 3.82, 4.03, 3.94, nan, 3.99, 3.88, 3.90, 3.93,
           3.86, 3.95, nan, 3.89, 3.89, 3.88, 3.88, 3.86, 3.88, 3.80,
           3.80, 3.84, 3.88, 3.77, 3.67, 3.70, 3.70, 3.73, 3.74, 3.61,
           3.82, 3.78, 3.57, 3.54, 3.84, 3.67, 3.50, 3.79, 3.79, 3.76,
           3.61, 3.41, 3.44, 3.26, 3.11, 3.17, 3.34, 3.46, 3.15, 3.48,
           3.40, 3.39, 3.36, 3.62, 3.59, 3.91, 3.55, 3.41, 3.56, 3.31,
           3.35, 3.34, 3.33, 3.11, 3.41]
lwp_adi_err = [0.10, 0.10, 0.12, 0.10, 0.10, 0.10, 0.08, 0.10, 0.10, 0.12,
               0.12, 0.08, 0.08, 0.08, 0.07, 0.07, 0.06, 0.06, 0.05, 0.05,
               0.05, 0.05, 0.06, 0.10, 0.12, 0.08, 0.05, 0.05, 0.10, 0.06,
               0.10, 0.12, 0.15, 0.12, 0.12, 0.10, 0.12, 0.08, 0.07, 0.06,
               0.08, 0.08, 0.06, 0.06, 0.06, 0.05, 0.05, 0.05, 0.05, 0.05,
               0.05, 0.05, 0.06, 0.05, 0.05, 0.00, 0.05, 0.04, 0.35, 0.35,
               0.25, 0.30, 0.20, 0.15, 0.05, 0.04, 0.03, 0.03, 0.03, 0.03,
               0.03, 0.03, 0.03, 0.03, 0.03, 0.03, 0.03, 0.03, 0.03, 0.03,
               0.03, 0.03, 0.03, 0.03, 0.00, 0.03, 0.00, 0.03, 0.03, 0.03,
               0.03, 0.03, 0.03, 0.03, 0.03, 0.03, 0.03, 0.03, 0.03, 0.03,
               0.03, 0.03, 0.03, 0.03, 0.03, 0.03, 0.00, 0.03, 0.03, 0.00,
               0.03, 0.03, 0.03, 0.03, 0.03, 0.00, 0.03, 0.03, 0.03, 0.03,
               0.03, 0.03, 0.00, 0.03, 0.03, 0.03, 0.03, 0.03, 0.03, 0.03,
               0.03, 0.03, 0.03, 0.03, 0.03, 0.03, 0.03, 0.03, 0.03, 0.03,
               0.03, 0.03, 0.03, 0.03, 0.03, 0.03, 0.03, 0.03, 0.03, 0.03,
               0.03, 0.03, 0.03, 0.03, 0.03, 0.03, 0.03, 0.03, 0.03, 0.03,
               0.04, 0.04, 0.04, 0.04, 0.04, 0.04, 0.04, 0.04, 0.04, 0.04,
               0.04, 0.04, 0.04, 0.04, 0.04]

lwp_gray = [(21.517, 21.531)]
lwp_cyan = [(21.531, 21.566), (22.182, 22.800), (22.818, 23.100), (23.118, 23.766)]

# ---------------- Panel 5 : DQ flags (minutes after 21 UTC) ----------------
flag_levels = [0, 4, 6, 7, 9, 10, 11]
flag0_min = [(0, 30), (35, 71), (167, 178)]
flag4_min = [(32, 32)]
flag6_min = [(33, 33), (72, 72), (75, 78), (80, 80), (82, 162)]
flag7_min = [(33, 33), (82, 152), (154, 165)]
flag9_min = [(89, 91), (113, 113)]
flag10_min = [(72, 101), (110, 125), (127, 157), (180, 180)]
flag11_min = [(33, 34), (72, 84), (86, 86), (89, 108), (110, 111), (113, 117), (120, 125), (129, 165)]

xticks = [21, 21.5, 22, 22.5, 23, 23.5, 24]
xtick_labels = ["21", "21.5", "22", "22.5", "23", "23.5", "24"]

# ---------------- style ----------------
sns.set_theme(style="white")
plt.rcParams["font.family"] = ["DejaVu Sans"]
plt.rcParams["mathtext.fontset"] = "dejavusans"

MBLUE = "#0072BD"
C2 = "#0000FF"
C3 = "#ADD8E6"
CO = "#FF8C00"
CP = "#800080"
LFS = 9.4     # legend font size
LABFS = 11.3  # axis label font size

fig = plt.figure(figsize=(12.75, 20), dpi=300)
left, width, height = 0.097, 0.688, 0.1512
bottoms = [0.7995, 0.6120, 0.4243, 0.2369, 0.0496]
axes = [fig.add_axes([left, b, width, height]) for b in bottoms]


def style_axis(ax, ylim, yticks, ylabel, labx):
    ax.set_xlim(21, 24)
    ax.set_ylim(*ylim)
    ax.set_xticks(xticks)
    ax.set_xticklabels(xtick_labels)
    ax.set_yticks(yticks)
    ax.set_yticklabels(["%g" % v for v in yticks])
    ax.tick_params(axis="x", direction="in", length=6.5, width=0.8, color="#262626",
                   labelcolor="black", labelsize=9, pad=6, bottom=True, top=False)
    ax.tick_params(axis="y", direction="in", length=6.2, width=0.8, color=MBLUE,
                   labelcolor=MBLUE, labelsize=9, pad=5, left=True, right=False)
    ax.spines["top"].set_visible(False)
    ax.spines["right"].set_color("#9fb8cc")
    ax.spines["right"].set_linewidth(0.6)
    ax.spines["left"].set_color(MBLUE)
    ax.spines["left"].set_linewidth(0.8)
    ax.spines["bottom"].set_color("#262626")
    ax.spines["bottom"].set_linewidth(0.8)
    ax.set_xlabel("UTC hours on 20240910", fontsize=LABFS, color="black", labelpad=8)
    ax.set_ylabel(ylabel, fontsize=LABFS, color=MBLUE)
    ax.yaxis.set_label_coords(labx, 0.5)
    ax.grid(False)


def line(ax, t, v, **kw):
    sns.lineplot(x=np.asarray(t, float), y=np.asarray(v, float), ax=ax, estimator=None,
                 sort=False, legend=False, **kw)


def gapped(ax, t, v, color, lw, zorder=3, alpha=1.0):
    t = np.asarray(t, float)
    v = np.asarray(v, float)
    seg = np.cumsum(np.isnan(v))
    for s in np.unique(seg):
        m = (seg == s) & ~np.isnan(v)
        if m.sum() >= 2:
            line(ax, t[m], v[m], color=color, linewidth=lw, zorder=zorder, alpha=alpha)
        elif m.sum() == 1:
            ax.plot(t[m], v[m], marker="x", ms=6, mew=2.2, color=color, zorder=zorder, alpha=alpha)


def spans(ax, ranges, color, alpha=0.5, z=5):
    for a, b in ranges:
        ax.axvspan(a, b, color=color, alpha=alpha, lw=0, zorder=z)


def legend(ax, handles, labels, **kw):
    leg = ax.legend(handles, labels, frameon=False, fontsize=LFS, handlelength=5.9,
                    handletextpad=0.6, labelspacing=0.45, borderpad=0, borderaxespad=0, **kw)
    leg.set_zorder(20)
    return leg


# Panel 1
ax = axes[0]
line(ax, bt23_2c_t, bt23_2c, color=C2, linewidth=1.0, zorder=3)
line(ax, bt23_3c_t, bt23_3c, color=C3, linewidth=0.9, zorder=3)
line(ax, bt23_phy_t, bt23_phy, color=CO, linewidth=2.6, zorder=4)
spans(ax, wet_window_23, "#D2B48C")
style_axis(ax, (27.3, 146.3), [40, 60, 80, 100, 120, 140], "Zenith BT 23 GHz, K", -0.050)
legend(ax, [Line2D([], [], color=C2, lw=1.0), Line2D([], [], color=C3, lw=1.0), Line2D([], [], color=CO, lw=2.6)],
       ["MWR 2C (tan = wet window)", "MWR 3C", "Phy-Iter"], loc="upper left", bbox_to_anchor=(0.098, 0.91))

# Panel 2
ax = axes[1]
line(ax, bt31_2c_t, bt31_2c, color=C2, linewidth=1.0, zorder=3)
line(ax, bt31_3c_t, bt31_3c, color=C3, linewidth=0.9, zorder=3)
line(ax, bt31_phy_t, bt31_phy, color=CO, linewidth=2.6, zorder=4)
style_axis(ax, (12.7, 162.3), [20, 40, 60, 80, 100, 120, 140, 160], "Zenith BT 31 GHz, K", -0.050)
legend(ax, [Line2D([], [], color=C2, lw=1.0), Line2D([], [], color=C3, lw=1.0), Line2D([], [], color=CO, lw=2.6)],
       ["MWR2C", "MWR 3C", "Phy-Iter"], loc="upper left", bbox_to_anchor=(0.796, 0.91))

# Panel 3
ax = axes[2]
line(ax, pwv_2c_t, pwv_2c, color=C2, linewidth=0.9, zorder=3)
line(ax, pwv_3c_t, pwv_3c, color=C3, linewidth=0.9, zorder=3)
line(ax, pwv_phy_t, pwv_phy, color=CO, linewidth=2.2, zorder=4)
spans(ax, pwv_brown, "#A52A2A")
spans(ax, pwv_tan, "#D2B48C")
style_axis(ax, (1.21, 4.67), [1.5, 2, 2.5, 3, 3.5, 4, 4.5], "Precip. Water Vapor, mm", -0.044)
leg = legend(ax, [Line2D([], [], color=C2, lw=1.0), Line2D([], [], color=C3, lw=1.0), Line2D([], [], color=CO, lw=2.2)],
             ["MWR 2C PWV", "MWR 3C PWV", "Phy-Iter PWV\n(tan = MWR 2C only)\n(brown = MWR 3C only)"],
             loc="upper left", bbox_to_anchor=(0.031, 0.90))
for txt in leg.get_texts():
    txt.set_linespacing(1.5)

# Panel 4
ax = axes[3]
ax.fill_between(np.asarray(phy_band_t[:53]), np.asarray(phy_band_lo[:53]), np.asarray(phy_band_hi[:53]),
                color=CO, alpha=0.2, lw=0, zorder=2)
ax.fill_between(np.asarray(phy_band_t[53:]), np.asarray(phy_band_lo[53:]), np.asarray(phy_band_hi[53:]),
                color=CO, alpha=0.2, lw=0, zorder=2)
adi_v = np.asarray(lwp_adi, float)
adi_e = np.asarray(lwp_adi_err, float)
ax.fill_between(np.asarray(lwp_adi_t), adi_v - adi_e, adi_v + adi_e, color=CP, alpha=0.18, lw=0, zorder=2)
line(ax, lwp_2c_t, lwp_2c, color=C2, linewidth=1.0, zorder=3)
gapped(ax, lwp_3c_t, lwp_3c, C3, 0.9, zorder=3)
gapped(ax, lwp_phy_t, lwp_phy, CO, 2.2, zorder=4)
gapped(ax, lwp_adi_t, lwp_adi, CP, 1.1, zorder=4)
spans(ax, lwp_gray, "#D3D3D3")
spans(ax, lwp_cyan, "#00FFFF")
style_axis(ax, (0.955, 4.24), [1, 1.5, 2, 2.5, 3, 3.5, 4], "log10 Liquid Water Path, log10(g/m$^2$)", -0.046)
legend(ax, [Line2D([], [], color=C2, lw=1.0), Line2D([], [], color="#C4D8DE", lw=1.0),
            Line2D([], [], color=CO, lw=2.2), Line2D([], [], color=CP, lw=1.1)],
       ["MWR 2C LWP", "MWR 3C LWP", "Phy-Iter LWP", "Adiabatic LWP"],
       loc="lower left", bbox_to_anchor=(0.733, 0.055))

# Panel 5
ax = axes[4]
flag_ranges = {0: flag0_min, 4: flag4_min, 6: flag6_min, 7: flag7_min, 9: flag9_min, 10: flag10_min, 11: flag11_min}
ft, fv = [], []
for lev in flag_levels:
    for a, b in flag_ranges[lev]:
        for m in range(a, b + 1):
            ft.append(21 + m / 60.0)
            fv.append(lev)
sns.scatterplot(x=np.asarray(ft), y=np.asarray(fv), ax=ax, color=CO, s=9, linewidth=0, legend=False, zorder=3)
style_axis(ax, (-0.5, 11.5), [0, 2, 4, 6, 8, 10], "MWR Phy Iter DQ Flag", -0.038)

fig.savefig("out.png", dpi=300, facecolor="white")
